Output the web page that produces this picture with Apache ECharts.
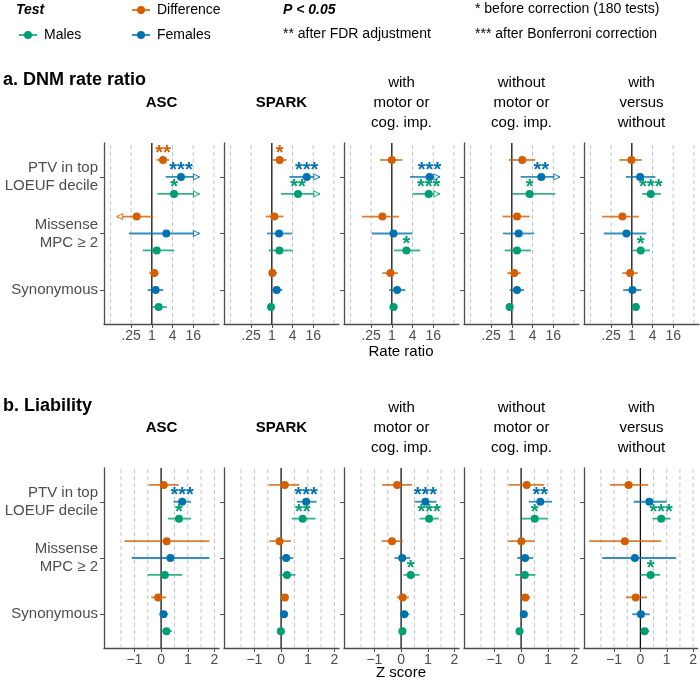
<!DOCTYPE html>
<html><head><meta charset="utf-8">
<script src="https://cdn.jsdelivr.net/npm/echarts@6/dist/echarts.min.js"></script>
<style>html,body{margin:0;padding:0;background:#fff}#c{width:700px;height:681px}</style>
</head><body><div id="c"></div>
<script>
// ---------- categories / labels ----------
const categories = ['PTV in top\nLOEUF decile', 'Missense\nMPC \u2265 2', 'Synonymous'];
const columnTitles = ['ASC', 'SPARK', 'with\nmotor or\ncog. imp.', 'without\nmotor or\ncog. imp.', 'with\nversus\nwithout'];
const tests = ['Difference', 'Females', 'Males'];
const testColors = ['#D55E00', '#0072B2', '#009E73'];
const sectionTitles = ['a. DNM rate ratio', 'b. Liability'];
const axisTitles = ['Rate ratio', 'Z score'];

// rate ratio axis is in log2 units
const rateTickValues = [-2, 0, 2, 4];
const rateTickLabels = ['.25', '1', '4', '16'];
const rateGridValues = [-4, -2, 2, 4, 6];
const zTickValues = [-1, 0, 1, 2];
const zTickLabels = ['\u22121', '0', '1', '2'];
const zGridValues = [-1.5, -1, -0.5, 0.5, 1, 1.5, 2];

// row order in each array:
// PTV (Difference, Females, Males), Missense (Difference, Females, Males), Synonymous (Difference, Females, Males)
// ---- a. DNM rate ratio (log2 rate ratio) ----
const rateASC_est = [1.08, 2.82, 2.15, -1.46, 1.40, 0.47, 0.24, 0.37, 0.66];
const rateASC_lo  = [0.47, 1.34, 0.54, -3.39, -2.20, -0.88, -0.24, -0.40, 0.00];
const rateASC_hi  = [1.66, 4.60, 4.60, 0.15, 4.60, 2.17, 0.66, 1.10, 1.44];
const rateASC_sig = ['**', '***', '*', '', '', '', '', '', ''];
const rateASC_clip = ['', 'hi', 'hi', 'lo', 'hi', '', '', '', ''];

const rateSPARK_est = [0.76, 3.37, 2.53, 0.24, 0.70, 0.73, 0.05, 0.47, -0.08];
const rateSPARK_lo  = [0.05, 1.69, 0.89, -0.59, -0.46, -0.30, -0.24, -0.08, -0.40];
const rateSPARK_hi  = [1.44, 4.64, 4.64, 1.11, 1.98, 2.02, 0.50, 1.01, 0.24];
const rateSPARK_sig = ['*', '***', '**', '', '', '', '', '', ''];
const rateSPARK_clip = ['', 'hi', 'hi', '', '', '', '', '', ''];

const rateWith_est = [0.00, 3.64, 3.56, -0.91, 0.16, 1.41, -0.13, 0.51, 0.16];
const rateWith_lo  = [-1.13, 1.77, 1.99, -2.90, -1.94, 0.22, -0.91, -0.26, -0.23];
const rateWith_hi  = [1.02, 4.64, 4.64, 0.70, 1.99, 2.73, 0.60, 1.31, 0.57];
const rateWith_sig = ['', '***', '***', '', '', '*', '', '', ''];
const rateWith_clip = ['', 'hi', 'hi', '', '', '', '', '', ''];

const rateWithout_est = [1.01, 2.85, 1.72, 0.50, 0.66, 0.50, 0.24, 0.50, -0.21];
const rateWithout_lo  = [-0.31, 0.85, 0.02, -0.89, -0.85, -0.70, -0.43, -0.21, -0.53];
const rateWithout_hi  = [2.27, 4.64, 4.20, 1.72, 2.17, 1.85, 0.85, 1.18, 0.12];
const rateWithout_sig = ['', '**', '*', '', '', '', '', '', ''];
const rateWithout_clip = ['', 'hi', '', '', '', '', '', '', ''];

const rateVersus_est = [-0.04, 0.80, 1.83, -0.91, -0.52, 0.86, -0.16, 0.06, 0.38];
const rateVersus_lo  = [-1.20, -0.58, 1.00, -2.87, -2.70, 0.03, -0.91, -0.84, 0.00];
const rateVersus_hi  = [0.97, 2.28, 2.80, 0.68, 1.41, 1.77, 0.58, 0.93, 0.80];
const rateVersus_sig = ['', '', '***', '', '', '*', '', '', ''];
const rateVersus_clip = ['', '', '', '', '', '', '', '', ''];

// ---- b. Liability (Z score) ----
const zASC_est = [0.10, 0.79, 0.67, 0.21, 0.35, 0.14, -0.11, 0.09, 0.20];
const zASC_lo  = [-0.46, 0.46, 0.25, -1.37, -1.10, -0.50, -0.37, -0.06, 0.00];
const zASC_hi  = [0.66, 1.12, 1.12, 1.81, 1.81, 0.79, 0.19, 0.25, 0.40];
const zASC_sig = ['', '***', '*', '', '', '', '', '', ''];

const zSPARK_est = [0.14, 0.94, 0.81, -0.06, 0.19, 0.22, 0.14, 0.11, -0.01];
const zSPARK_lo  = [-0.46, 0.59, 0.40, -0.44, -0.06, -0.06, 0.00, 0.03, -0.10];
const zSPARK_hi  = [0.69, 1.33, 1.29, 0.37, 0.46, 0.54, 0.28, 0.21, 0.08];
const zSPARK_sig = ['', '***', '**', '', '', '', '', '', ''];

const zWith_est = [-0.15, 0.91, 1.05, -0.34, 0.04, 0.36, 0.06, 0.12, 0.05];
const zWith_lo  = [-0.71, 0.50, 0.69, -0.73, -0.25, 0.09, -0.16, -0.04, -0.05];
const zWith_hi  = [0.41, 1.33, 1.41, 0.06, 0.34, 0.69, 0.29, 0.31, 0.15];
const zWith_sig = ['', '***', '***', '', '', '*', '', '', ''];

const zWithout_est = [0.21, 0.72, 0.51, 0.01, 0.15, 0.14, 0.16, 0.10, -0.06];
const zWithout_lo  = [-0.46, 0.29, 0.00, -0.48, -0.15, -0.22, -0.03, -0.03, -0.17];
const zWithout_hi  = [0.87, 1.16, 1.00, 0.50, 0.46, 0.54, 0.35, 0.22, 0.04];
const zWithout_sig = ['', '**', '*', '', '', '', '', '', ''];

const zVersus_est = [-0.45, 0.34, 0.79, -0.59, -0.21, 0.39, -0.18, 0.02, 0.16];
const zVersus_lo  = [-1.15, -0.25, 0.46, -1.94, -1.45, 0.00, -0.54, -0.31, 0.00];
const zVersus_hi  = [0.29, 1.00, 1.15, 0.79, 1.35, 0.75, 0.25, 0.35, 0.34];
const zVersus_sig = ['', '', '***', '', '', '*', '', '', ''];

const noClip = ['', '', '', '', '', '', '', '', ''];

// ---------- assemble ----------
const panels = [
  {est: rateASC_est, lo: rateASC_lo, hi: rateASC_hi, sig: rateASC_sig, clip: rateASC_clip},
  {est: rateSPARK_est, lo: rateSPARK_lo, hi: rateSPARK_hi, sig: rateSPARK_sig, clip: rateSPARK_clip},
  {est: rateWith_est, lo: rateWith_lo, hi: rateWith_hi, sig: rateWith_sig, clip: rateWith_clip},
  {est: rateWithout_est, lo: rateWithout_lo, hi: rateWithout_hi, sig: rateWithout_sig, clip: rateWithout_clip},
  {est: rateVersus_est, lo: rateVersus_lo, hi: rateVersus_hi, sig: rateVersus_sig, clip: rateVersus_clip},
  {est: zASC_est, lo: zASC_lo, hi: zASC_hi, sig: zASC_sig, clip: noClip},
  {est: zSPARK_est, lo: zSPARK_lo, hi: zSPARK_hi, sig: zSPARK_sig, clip: noClip},
  {est: zWith_est, lo: zWith_lo, hi: zWith_hi, sig: zWith_sig, clip: noClip},
  {est: zWithout_est, lo: zWithout_lo, hi: zWithout_hi, sig: zWithout_sig, clip: noClip},
  {est: zVersus_est, lo: zVersus_lo, hi: zVersus_hi, sig: zVersus_sig, clip: noClip}
];

const FONT = '"Liberation Sans", Arial, Helvetica, sans-serif';
const AXIS_COL = '#4d4d4d';
const Y_MIN = -0.6, Y_MAX = 2.6;
const catY = [2, 1, 0];
const testOffset = [0.3, 0, -0.3];
const colLeft = [104, 224, 344, 464, 584];
const rowTop = [143, 468];
const rowHeight = [181, 180];
const xRange = [[-4.62, 6.49], [-2.14, 2.17]];

const grids = [], xAxes = [], yAxes = [], series = [];

panels.forEach((pd, p) => {
  const r = Math.floor(p / 5), c = p % 5;
  grids.push({left: colLeft[c], top: rowTop[r], width: 115, height: rowHeight[r]});
  const tickVals = r === 0 ? rateTickValues : zTickValues;
  const tickLabs = r === 0 ? rateTickLabels : zTickLabels;
  const gridVals = r === 0 ? rateGridValues : zGridValues;
  xAxes.push({
    type: 'value', gridIndex: p, min: xRange[r][0], max: xRange[r][1], position: 'bottom',
    axisLine: {show: true, onZero: false, lineStyle: {color: AXIS_COL, width: 1.3}},
    axisTick: {show: true, customValues: tickVals, length: 4, lineStyle: {color: AXIS_COL, width: 1}},
    axisLabel: {show: true, customValues: tickVals, margin: 5, color: AXIS_COL, fontSize: 14, fontFamily: FONT,
      formatter: v => { const i = tickVals.findIndex(t => Math.abs(t - v) < 1e-6); return i >= 0 ? tickLabs[i] : ''; }},
    splitLine: {show: false}
  });
  yAxes.push({
    type: 'value', gridIndex: p, min: Y_MIN, max: Y_MAX, position: 'left',
    axisLine: {show: true, onZero: false, lineStyle: {color: AXIS_COL, width: 1.3}},
    axisTick: {show: true, customValues: [0, 1, 2], length: 4, lineStyle: {color: AXIS_COL, width: 1}},
    axisLabel: {show: c === 0, customValues: [0, 1, 2], margin: 6, color: AXIS_COL, fontSize: 15, lineHeight: 18,
      fontFamily: FONT, align: 'right',
      formatter: v => categories[2 - Math.round(v)]},
    splitLine: {show: false}
  });
  // reference lines (dashed grid + solid zero)
  const refData = gridVals.map(v => [v, Y_MIN, Y_MAX, 0]).concat([[0, Y_MIN, Y_MAX, 1]]);
  series.push({
    type: 'custom', xAxisIndex: p, yAxisIndex: p, z: 1, silent: true,
    encode: {x: 0, y: [1, 2]},
    data: refData,
    renderItem: (params, api) => {
      const a = api.coord([api.value(0), api.value(1)]);
      const b = api.coord([api.value(0), api.value(2)]);
      const zero = api.value(3) === 1;
      return {type: 'line', shape: {x1: a[0], y1: a[1], x2: b[0], y2: b[1]},
        style: zero ? {stroke: '#111', lineWidth: 1.3} : {stroke: '#c4c4c4', lineWidth: 1, lineDash: [4, 3]}};
    }
  });
  // confidence intervals
  const ciData = pd.est.map((e, i) => {
    const cat = Math.floor(i / 3), t = i % 3;
    const clip = pd.clip[i] === 'hi' ? 2 : (pd.clip[i] === 'lo' ? 1 : 0);
    return [pd.lo[i], pd.hi[i], catY[cat] + testOffset[t], clip, t];
  });
  series.push({
    type: 'custom', xAxisIndex: p, yAxisIndex: p, z: 2, silent: true,
    encode: {x: [0, 1], y: 2},
    data: ciData,
    renderItem: (params, api) => {
      const lo = api.value(0), hi = api.value(1), y = api.value(2), clip = api.value(3), t = api.value(4);
      const p1 = api.coord([lo, y]), p2 = api.coord([hi, y]);
      const col = testColors[t];
      const children = [{type: 'line', shape: {x1: p1[0], y1: p1[1], x2: p2[0], y2: p2[1]},
        style: {stroke: col, lineWidth: 1.8, opacity: 0.8}}];
      if (clip === 2) {
        children.push({type: 'polygon', shape: {points: [[p2[0] - 6, p2[1] - 3], [p2[0], p2[1]], [p2[0] - 6, p2[1] + 3]]},
          style: {fill: '#fff', stroke: col, lineWidth: 1, opacity: 0.9}});
      } else if (clip === 1) {
        children.push({type: 'polygon', shape: {points: [[p1[0] + 6, p1[1] - 3], [p1[0], p1[1]], [p1[0] + 6, p1[1] + 3]]},
          style: {fill: '#fff', stroke: col, lineWidth: 1, opacity: 0.9}});
      }
      return {type: 'group', children};
    }
  });
  // points with significance stars
  series.push({
    type: 'scatter', xAxisIndex: p, yAxisIndex: p, z: 3, silent: true,
    symbolSize: 8,
    data: pd.est.map((e, i) => {
      const cat = Math.floor(i / 3), t = i % 3;
      return {
        value: [e, catY[cat] + testOffset[t]],
        itemStyle: {color: testColors[t], opacity: 1},
        label: {show: pd.sig[i] !== '', formatter: pd.sig[i], position: 'inside', offset: [0, -6],
          color: testColors[t], fontSize: 20, fontWeight: 'bold', fontFamily: FONT}
      };
    })
  });
});

// ---------- text & legend graphics ----------
const graphic = [];
function txt(text, x, y, font, opts) {
  graphic.push(Object.assign({type: 'text', silent: true,
    style: Object.assign({text, x, y, font, fill: '#000', align: 'left', verticalAlign: 'middle'}, opts || {})}));
}
// section titles
txt(sectionTitles[0], 3, 80, 'bold 18px ' + FONT);
txt(sectionTitles[1], 3, 406, 'bold 18px ' + FONT);
// column titles
[0, 1].forEach(r => {
  const mid = r === 0 ? 103 : 428;
  columnTitles.forEach((t, c) => {
    const bold = c < 2;
    txt(t, colLeft[c] + 57.5, mid, (bold ? 'bold ' : '') + '15px ' + FONT, {align: 'center', lineHeight: 20});
  });
});
// axis titles
txt(axisTitles[0], 401, 352, '15px ' + FONT, {align: 'center'});
txt(axisTitles[1], 401, 673, '15px ' + FONT, {align: 'center'});
// legend
txt('Test', 16, 10, 'italic bold 14px ' + FONT);
const legendPos = [[141, 10], [141, 35], [28, 35]]; // Difference, Females, Males
tests.forEach((name, t) => {
  const [cx, cy] = legendPos[t];
  graphic.push({type: 'line', silent: true, shape: {x1: cx - 9, y1: cy, x2: cx + 9, y2: cy},
    style: {stroke: testColors[t], lineWidth: 1.6}});
  graphic.push({type: 'circle', silent: true, shape: {cx, cy, r: 4}, style: {fill: testColors[t]}});
  txt(name, cx + 16, cy, '14px ' + FONT);
});
txt('P < 0.05', 283, 10, 'italic bold 14px ' + FONT);
txt('** after FDR adjustment', 283, 34, '14px ' + FONT);
txt('* before correction (180 tests)', 475, 9, '14px ' + FONT);
txt('*** after Bonferroni correction', 475, 34, '14px ' + FONT);

const chart = echarts.init(document.getElementById('c'), null, {renderer: 'canvas'});
chart.setOption({
  animation: false,
  backgroundColor: '#fff',
  grid: grids,
  xAxis: xAxes,
  yAxis: yAxes,
  series,
  graphic
});
</script>
</body></html>
